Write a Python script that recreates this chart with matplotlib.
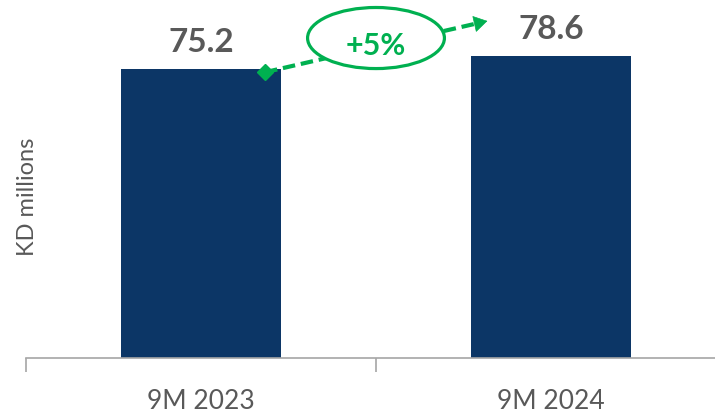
import matplotlib.pyplot as plt
from matplotlib.patches import Ellipse

# data
categories = ['9M 2023', '9M 2024']
values = [75.2, 78.6]
growth_label = '+5%'

bar_color = '#0C3666'
green = '#00B050'
gray = '#595959'

plt.rcParams['font.family'] = ['Lato', 'DejaVu Sans']

fig = plt.figure(figsize=(7.15, 4.15), dpi=100)
# axes spans past the right edge like the original slide crop
ax = fig.add_axes([26 / 715, 1 - 358 / 415, 700 / 715, 358 / 415])

x = range(len(categories))
bars = ax.bar(x, values, width=0.457, color=bar_color, zorder=2)
ax.set_xlim(-0.5, 1.5)
ax.set_ylim(0, 93.2)

for b, v in zip(bars, values):
    ax.annotate(f'{v:.1f}', (b.get_x() + b.get_width() / 2, v),
                xytext=(0, 9), textcoords='offset points',
                ha='center', va='bottom', fontsize=24, fontweight='bold', color=gray)

# growth arrow: dashed line from first bar to second, ellipse label in the middle
x0, y0 = 0.183, 74.4
x1, y1 = 0.826, 87.9
ax.plot([x0, x1 - 0.02], [y0, y1 - 0.42], color=green, lw=3, dashes=(3, 1.4),
        zorder=3, clip_on=False)
ax.plot([x0], [y0], marker='D', color=green, markersize=8, zorder=4, clip_on=False)
ax.annotate('', xy=(x1, y1), xytext=(x1 - 0.03, y1 - 0.63),
            arrowprops=dict(arrowstyle='-|>,head_length=0.9,head_width=0.55',
                            color=green, lw=0.5), zorder=4, annotation_clip=False)
ell = Ellipse((0.5, 83.3), 0.391, 15.9, facecolor='white', edgecolor=green,
              lw=2.3, zorder=5, clip_on=False)
ax.add_patch(ell)
ax.text(0.5, 81.3, growth_label, ha='center', va='center', fontsize=22,
        fontweight='bold', color=green, zorder=6)

# axes styling
for s in ['top', 'right', 'left']:
    ax.spines[s].set_visible(False)
ax.spines['bottom'].set_color('#A6A6A6')
ax.spines['bottom'].set_linewidth(1.2)
ax.set_yticks([])
ax.set_xticks(list(x))
ax.set_xticklabels(categories, fontsize=19, color=gray)
ax.tick_params(axis='x', which='major', length=0, pad=22)
ax.set_xticks([-0.5, 0.5, 1.5], minor=True)
ax.tick_params(axis='x', which='minor', length=10, color='#A6A6A6', width=1.2)
ax.set_ylabel('KD millions', fontsize=17, color=gray)
ax.yaxis.set_label_coords(0.017, 0.45)

fig.savefig('out.png', dpi=100)
